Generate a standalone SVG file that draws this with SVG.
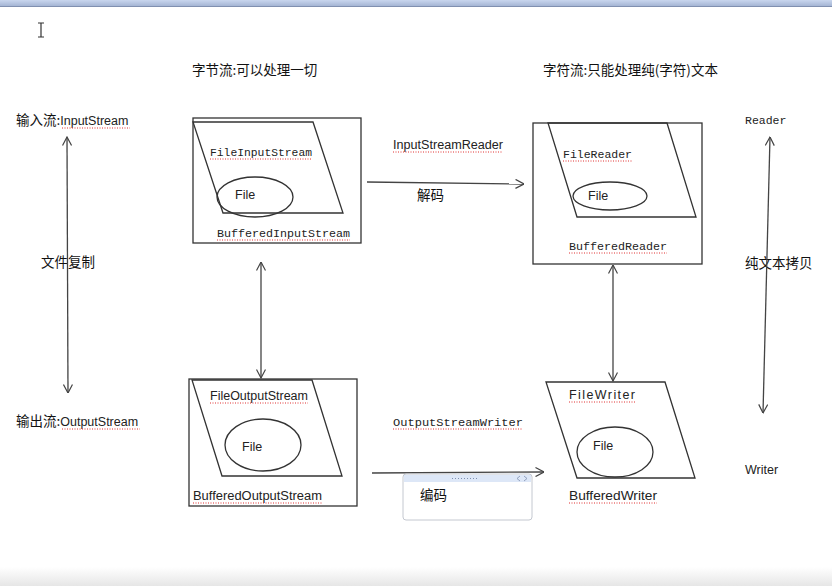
<svg xmlns="http://www.w3.org/2000/svg" width="832" height="586" viewBox="0 0 832 586">
<style>
.shape{fill:none;stroke:#333;stroke-width:1.3}
.conn{fill:none;stroke:#444;stroke-width:1.3}
.cn{font-family:"Noto Sans CJK SC","Noto Sans",sans-serif;font-size:13.5px;fill:#111}
.lat{font-family:"Liberation Sans","Noto Sans",sans-serif;font-size:12.5px;fill:#222}
.mono{font-family:"Liberation Mono","DejaVu Sans Mono",monospace;font-size:11.5px;fill:#222}
.sq{fill:none;stroke:#e03030;stroke-width:1;stroke-dasharray:1 1.5}
</style>
<defs>
<marker id="arr" viewBox="0 0 10 10" refX="9.5" refY="5" markerWidth="10" markerHeight="10" markerUnits="userSpaceOnUse" orient="auto-start-reverse">
<path d="M1,0.5 L9.5,5 L1,9.5" fill="none" stroke="#444" stroke-width="1.2"/>
</marker>
<linearGradient id="bot" x1="0" y1="0" x2="0" y2="1">
<stop offset="0" stop-color="#ffffff"/>
<stop offset="1" stop-color="#e6e6e6"/>
</linearGradient>
<linearGradient id="top" x1="0" y1="0" x2="0" y2="1">
<stop offset="0" stop-color="#c9d6ee"/>
<stop offset="1" stop-color="#9fb0d0"/>
</linearGradient>
</defs>
<rect x="0" y="0" width="832" height="586" fill="#ffffff"/>
<rect x="0" y="0" width="832" height="7" fill="url(#top)"/>
<line x1="0" y1="6.5" x2="832" y2="6.5" stroke="#8090b0" stroke-width="1"/>
<rect x="0" y="567" width="832" height="19" fill="url(#bot)"/>
<path d="M38,23 H44 M41,23 V37 M38,37 H44" stroke="#333" stroke-width="1.2" fill="none"/>

<g id="header-bytes"><text class="cn" x="192" y="75">字节流:可以处理一切</text></g>
<g id="header-chars"><text class="cn" x="543" y="75">字符流:只能处理纯(字符)文本</text></g>

<g id="label-input">
<text class="cn" x="16" y="125">输入流:<tspan class="lat">InputStream</tspan></text>
<path class="sq" d="M62,128 H130"/>
</g>
<g id="label-output">
<text class="cn" x="16" y="426">输出流:<tspan class="lat">OutputStream</tspan></text>
<path class="sq" d="M62,429 H140"/>
</g>
<g id="label-copy"><text class="cn" x="41" y="267">文件复制</text></g>
<g id="label-reader"><text class="mono" x="745" y="124">Reader</text></g>
<g id="label-writer"><text class="lat" x="745" y="474">Writer</text></g>
<g id="label-textcopy"><text class="cn" x="745" y="268">纯文本拷贝</text></g>

<g id="node-bufferedinputstream">
<rect class="shape" x="193" y="118" width="168" height="125"/>
<path class="shape" d="M193,122 H313 L343,213 H223 Z"/>
<ellipse class="shape" cx="255" cy="197" rx="38" ry="20" fill="#fff"/>
<text class="mono" x="210" y="156" textLength="102" lengthAdjust="spacingAndGlyphs">FileInputStream</text>
<path class="sq" d="M210,159 H312"/>
<text class="lat" x="235" y="199">File</text>
<text class="mono" x="217" y="237" textLength="133" lengthAdjust="spacingAndGlyphs">BufferedInputStream</text>
<path class="sq" d="M217,240 H350"/>
</g>

<g id="node-bufferedreader">
<rect class="shape" x="533" y="123" width="169" height="141"/>
<path class="shape" d="M548,123 H667 L696,217 H577 Z"/>
<ellipse class="shape" cx="610" cy="196" rx="37" ry="14" fill="#fff"/>
<text class="mono" x="563" y="158" textLength="69" lengthAdjust="spacingAndGlyphs">FileReader</text>
<path class="sq" d="M563,161 H632"/>
<text class="lat" x="588" y="200">File</text>
<text class="mono" x="569" y="250" textLength="98" lengthAdjust="spacingAndGlyphs">BufferedReader</text>
<path class="sq" d="M569,253 H667"/>
</g>

<g id="node-bufferedoutputstream">
<rect class="shape" x="189" y="379" width="168" height="127"/>
<path class="shape" d="M192,380 H312 L342,476 H222 Z"/>
<ellipse class="shape" cx="263" cy="445" rx="38" ry="26" fill="#fff"/>
<text class="lat" x="210" y="400" textLength="98" lengthAdjust="spacingAndGlyphs">FileOutputStream</text>
<path class="sq" d="M210,403 H308"/>
<text class="lat" x="242" y="451">File</text>
<text class="lat" x="193" y="500" textLength="129" lengthAdjust="spacingAndGlyphs">BufferedOutputStream</text>
<path class="sq" d="M193,503 H322"/>
</g>

<g id="node-bufferedwriter">
<path class="shape" d="M546,382 H665 L695,478 H577 Z"/>
<ellipse class="shape" cx="615" cy="452" rx="38" ry="25" fill="#fff"/>
<text class="lat" x="569" y="399" textLength="66" lengthAdjust="spacing">FileWriter</text>
<path class="sq" d="M569,402 H636"/>
<text class="lat" x="593" y="450">File</text>
<text class="lat" x="569" y="500" textLength="88" lengthAdjust="spacingAndGlyphs">BufferedWriter</text>
<path class="sq" d="M569,503 H657"/>
</g>

<g id="label-isr">
<text class="lat" x="393" y="149" textLength="110" lengthAdjust="spacingAndGlyphs">InputStreamReader</text>
<path class="sq" d="M393,152 H503"/>
</g>
<g id="label-decode"><text class="cn" x="417" y="200">解码</text></g>
<g id="label-osw">
<text class="mono" x="393" y="426" textLength="130" lengthAdjust="spacingAndGlyphs">OutputStreamWriter</text>
<path class="sq" d="M393,429 H523"/>
</g>

<g id="connectors">
<line class="conn" x1="367" y1="182" x2="524" y2="184" marker-end="url(#arr)"/>
<line class="conn" x1="372" y1="473" x2="544" y2="472" marker-end="url(#arr)"/>
<line class="conn" x1="67" y1="137" x2="68" y2="393" marker-start="url(#arr)" marker-end="url(#arr)"/>
<line class="conn" x1="770" y1="137" x2="763" y2="413" marker-start="url(#arr)" marker-end="url(#arr)"/>
<line class="conn" x1="261" y1="262" x2="261" y2="378" marker-start="url(#arr)" marker-end="url(#arr)"/>
<line class="conn" x1="613" y1="265" x2="613" y2="381" marker-start="url(#arr)" marker-end="url(#arr)"/>
</g>

<g id="tooltip-encode">
<rect x="403" y="474" width="129" height="46" rx="3" fill="#ffffff" stroke="#c4c8d0" stroke-width="1"/>
<rect x="404" y="475" width="127" height="7" fill="#dde7f7"/>
<path d="M452,478.5 H478" stroke="#8090b0" stroke-width="1" stroke-dasharray="1 2"/>
<path d="M520,476 L517,478.5 L520,481 M524,476 L527,478.5 L524,481" stroke="#8090b0" stroke-width="0.8" fill="none"/>
<text class="cn" x="420" y="500">编码</text>
</g>
</svg>
